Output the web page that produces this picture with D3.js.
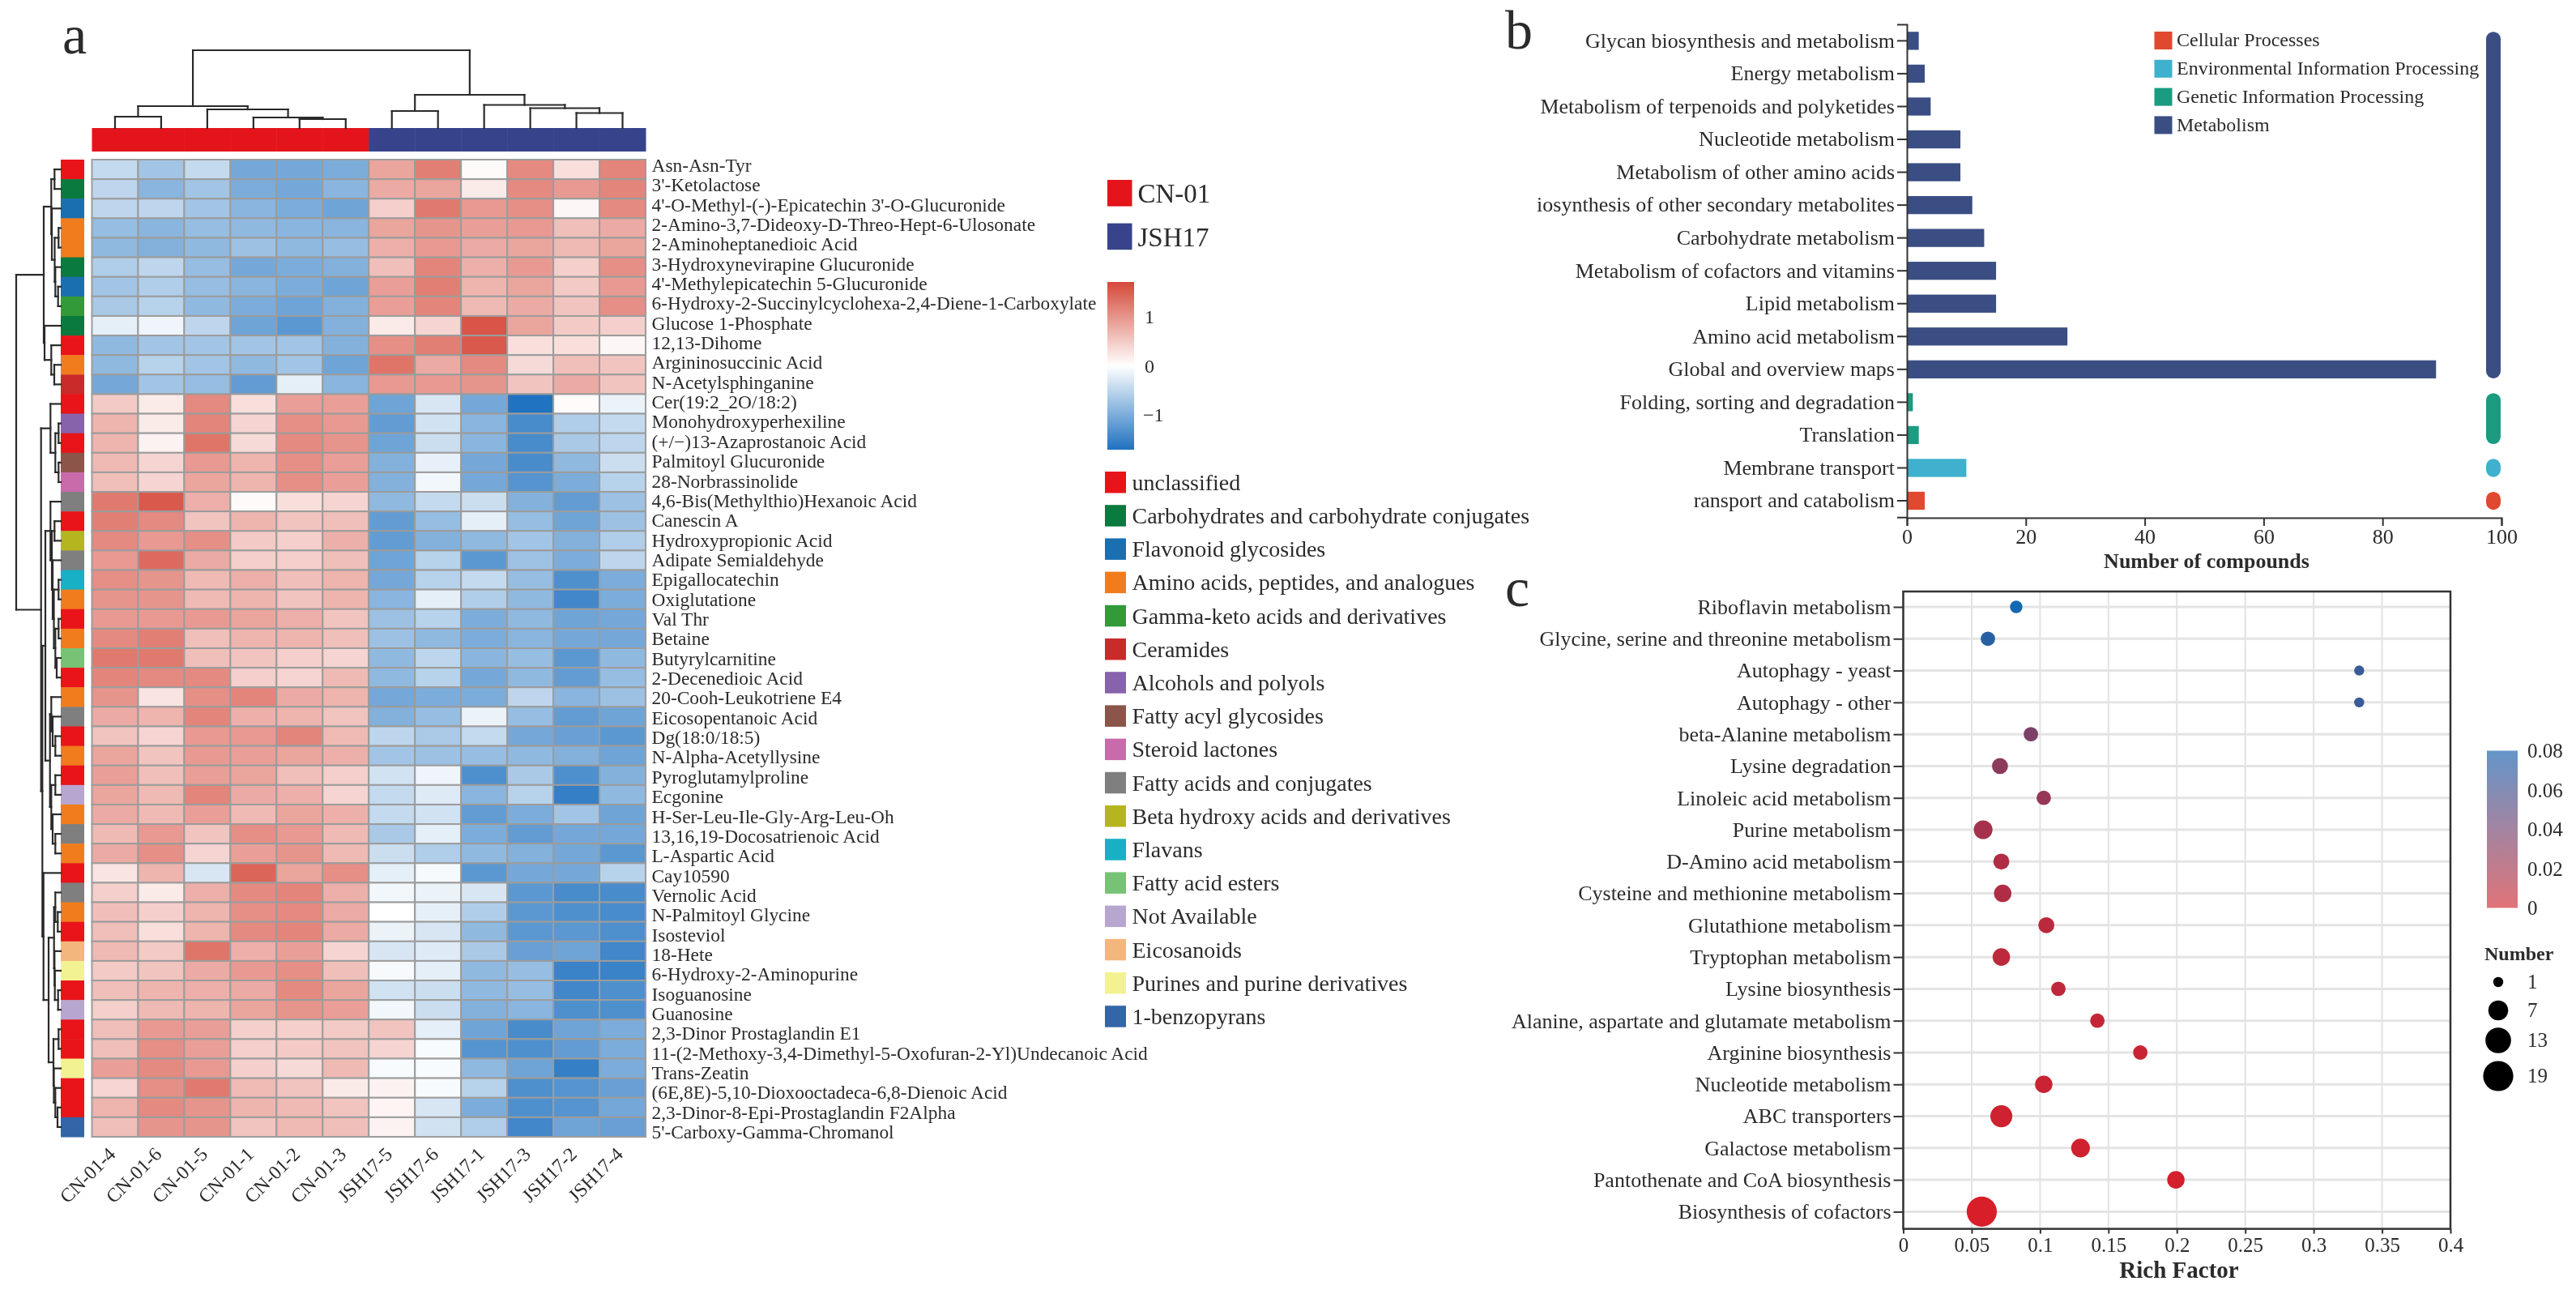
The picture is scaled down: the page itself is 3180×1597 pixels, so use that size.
<!DOCTYPE html>
<html><head><meta charset="utf-8">
<script src="https://cdn.jsdelivr.net/npm/d3@7"></script>
<style>
html,body{margin:0;padding:0;background:#fff}
svg{display:block;filter:blur(0.6px)}
text{font-family:"Liberation Serif",serif;fill:#2b2b2b}
</style></head><body>
<svg id="chart" width="3180" height="1597"></svg>
<script>
// ---------- Panel a: heatmap ----------
const sampleLabels=["CN-01-4","CN-01-6","CN-01-5","CN-01-1","CN-01-2","CN-01-3","JSH17-5","JSH17-6","JSH17-1","JSH17-3","JSH17-2","JSH17-4"];
const groupNames=["CN-01","JSH17"];
const sampleGroups=[0,0,0,0,0,0,1,1,1,1,1,1];
const metaboliteLabels=["Asn-Asn-Tyr","3'-Ketolactose","4'-O-Methyl-(-)-Epicatechin 3'-O-Glucuronide","2-Amino-3,7-Dideoxy-D-Threo-Hept-6-Ulosonate","2-Aminoheptanedioic Acid","3-Hydroxynevirapine Glucuronide","4'-Methylepicatechin 5-Glucuronide","6-Hydroxy-2-Succinylcyclohexa-2,4-Diene-1-Carboxylate","Glucose 1-Phosphate","12,13-Dihome","Argininosuccinic Acid","N-Acetylsphinganine","Cer(19:2_2O/18:2)","Monohydroxyperhexiline","(+/−)13-Azaprostanoic Acid","Palmitoyl Glucuronide","28-Norbrassinolide","4,6-Bis(Methylthio)Hexanoic Acid","Canescin A","Hydroxypropionic Acid","Adipate Semialdehyde","Epigallocatechin","Oxiglutatione","Val Thr","Betaine","Butyrylcarnitine","2-Decenedioic Acid","20-Cooh-Leukotriene E4","Eicosopentanoic Acid","Dg(18:0/18:5)","N-Alpha-Acetyllysine","Pyroglutamylproline","Ecgonine","H-Ser-Leu-Ile-Gly-Arg-Leu-Oh","13,16,19-Docosatrienoic Acid","L-Aspartic Acid","Cay10590","Vernolic Acid","N-Palmitoyl Glycine","Isosteviol","18-Hete","6-Hydroxy-2-Aminopurine","Isoguanosine","Guanosine","2,3-Dinor Prostaglandin E1","11-(2-Methoxy-3,4-Dimethyl-5-Oxofuran-2-Yl)Undecanoic Acid","Trans-Zeatin","(6E,8E)-5,10-Dioxooctadeca-6,8-Dienoic Acid","2,3-Dinor-8-Epi-Prostaglandin F2Alpha","5'-Carboxy-Gamma-Chromanol"];
const heatValues=[
[-.45,-.7,-.45,-1.05,-1.05,-1.0,.85,1.2,.05,1.1,.3,1.15],
[-.5,-.9,-.7,-1.0,-1.05,-.9,.8,.85,.2,1.1,.95,1.15],
[-.5,-.5,-.7,-.9,-1.0,-1.1,.45,1.25,.95,1.05,.08,1.1],
[-.8,-.9,-.8,-.85,-.9,-.9,.85,1.0,.9,.95,.6,.8],
[-.85,-.95,-.85,-.75,-.85,-.8,.75,.95,.8,.85,.65,.85],
[-.6,-.5,-.8,-1.05,-1.0,-.95,.6,1.15,.75,.95,.45,1.05],
[-.7,-.6,-.8,-.9,-1.0,-1.1,.9,1.2,.7,.85,.5,.95],
[-.65,-.55,-.85,-1.0,-1.1,-.95,.9,1.15,.65,.8,.55,1.05],
[-.2,-.12,-.5,-1.1,-1.25,-.95,.2,.4,1.6,.85,.5,.45],
[-.85,-.7,-.7,-.7,-.7,-.95,1.05,1.2,1.55,.3,.3,.08],
[-.85,-.55,-.7,-.85,-.7,-1.1,1.3,.8,1.1,.35,.6,.55],
[-1.05,-.7,-.8,-1.2,-.2,-.9,.95,.95,1.0,.55,.8,.55],
[.5,.2,1.1,.3,.9,.9,-1.1,-.3,-1.05,-1.7,.04,-.15],
[.7,.2,1.15,.4,1.05,.95,-1.2,-.35,-.9,-1.4,-.6,-.45],
[.7,.12,1.3,.35,1.1,1.0,-1.1,-.4,-.9,-1.4,-.65,-.5],
[.65,.4,.95,.7,1.05,.9,-.95,-.18,-1.05,-1.4,-.85,-.4],
[.6,.4,.85,.7,1.05,.9,-.95,-.1,-1.05,-1.3,-1.0,-.55],
[1.25,1.55,.75,.05,.3,.4,-.85,-.45,-.4,-.95,-1.2,-.75],
[1.2,1.1,.55,.7,.55,.6,-1.2,-.8,-.2,-.8,-1.1,-.75],
[1.1,.95,1.05,.5,.45,.75,-1.2,-.95,-.85,-.7,-.95,-.6],
[.95,1.4,.8,.45,.45,.6,-1.1,-.55,-1.25,-.75,-1.0,-.5],
[1.05,1.0,.65,.75,.6,.7,-1.05,-.55,-.45,-.8,-1.35,-1.0],
[1.0,1.0,.65,.7,.55,.7,-.9,-.2,-.6,-.85,-1.45,-1.0],
[.95,.95,.95,.85,.75,.55,-.75,-.55,-1.0,-.85,-1.1,-1.05],
[1.1,1.2,.6,.7,.7,.6,-.75,-.85,-1.0,-.9,-1.05,-1.05],
[1.25,1.25,.6,.55,.45,.4,-.85,-.5,-.9,-.8,-1.25,-.85],
[1.15,1.1,1.1,.45,.4,.65,-.85,-.55,-1.05,-.85,-1.2,-.8],
[1.0,.25,1.05,1.15,.8,.7,-1.05,-1.0,-1.0,-.5,-.9,-.75],
[.8,.7,1.15,.75,.7,.55,-.95,-.8,-.15,-.8,-1.2,-1.1],
[.55,.4,.95,.95,1.15,.65,-.5,-.65,-.45,-1.05,-1.15,-1.25],
[.85,.55,.95,.9,.85,.75,-.7,-.75,-.8,-.85,-.95,-1.1],
[.9,.6,.9,.85,.6,.45,-.35,-.12,-1.35,-.65,-1.35,-.95],
[.85,.65,1.15,.8,.75,.4,-.45,-.25,-.9,-.55,-1.55,-.85],
[.8,.65,.9,.65,.85,.75,-.45,-.35,-1.2,-1.0,-.7,-1.1],
[.65,.95,.55,1.05,.95,.65,-.65,-.2,-1.0,-1.2,-1.05,-1.05],
[.8,1.05,.4,.9,1.0,.65,-.4,-.6,-.85,-.95,-1.05,-1.25],
[.25,.7,-.3,1.45,.85,1.05,-.2,-.06,-1.25,-1.05,-1.05,-.55],
[.45,.2,.75,1.1,1.15,.75,-.1,-.15,-.3,-1.25,-1.4,-1.4],
[.6,.45,.7,1.05,1.1,.8,.0,-.2,-.6,-1.25,-1.35,-1.4],
[.6,.3,.7,1.1,1.15,.8,-.15,-.3,-.85,-1.25,-1.25,-1.35],
[.65,.5,1.3,.75,.9,.4,-.3,-.25,-.65,-1.15,-1.1,-1.45],
[.5,.55,.8,.95,1.05,.6,-.06,-.2,-.85,-.8,-1.5,-1.5],
[.6,.7,.75,.8,1.1,.85,-.35,-.4,-.85,-.8,-1.45,-1.35],
[.45,.65,.7,.85,1.0,.9,-.1,-.4,-.95,-.9,-1.35,-1.35],
[.6,.95,.9,.45,.45,.5,.55,-.2,-1.1,-1.4,-1.1,-1.0],
[.6,1.05,.9,.45,.5,.55,.4,-.05,-1.3,-1.35,-1.2,-1.0],
[.9,1.1,.95,.45,.35,.65,-.05,-.05,-.85,-1.1,-1.55,-1.0],
[.4,1.05,1.25,.65,.55,.2,.12,-.05,-.55,-1.35,-1.3,-1.15],
[.7,1.1,1.0,.7,.65,.55,.1,-.3,-1.0,-1.35,-1.3,-1.05],
[.6,1.0,1.0,.55,.65,.6,.12,-.35,-.6,-1.45,-1.1,-1.15]];
const classNames=["unclassified","Carbohydrates and carbohydrate conjugates","Flavonoid glycosides","Amino acids, peptides, and analogues","Gamma-keto acids and derivatives","Ceramides","Alcohols and polyols","Fatty acyl glycosides","Steroid lactones","Fatty acids and conjugates","Beta hydroxy acids and derivatives","Flavans","Fatty acid esters","Not Available","Eicosanoids","Purines and purine derivatives","1-benzopyrans"];
const classColors=["#e8141a","#0b7a3e","#1a6fb0","#f07c1d","#339a3a","#c92a2a","#8763ab","#8c5549","#c96aaa","#7f7f7f","#b5b520","#18b0c4","#77c274","#b7a6d0","#f3b67d","#f3f292","#3465a8"];
const rowClass=[0,1,2,3,3,1,2,4,1,0,3,5,0,6,0,7,8,9,0,10,9,11,3,0,3,12,0,3,9,0,3,0,13,3,9,3,0,9,3,0,14,15,0,13,0,0,15,0,0,16];
const heatTicks=[1,0,-1];
// dendrograms: [height, childA, childB]; a number is a leaf
const colTree=[96,[27,[14,0,1],[23,2,[13,3,[11,4,5]]]],[41,[21,6,7],[28.5,8,[24.5,9,[18.5,10,11]]]]];
const rowTree=[55,
 [21,[11.7,[7.7,0,1],[11,2,[7.5,[2.7,3,4],[6.7,5,[3.3,6,7]]]]],[20,8,[11.7,9,[8,10,11]]]],
 [24.3,[12.7,12,[6.7,[2.7,13,14],[2.7,15,16]]],
  [22.7,
   [19,[12.7,17,[11,[7.7,18,19],[10,20,[8.5,[2.7,21,22],[6.7,[2.7,23,24],[5,25,26]]]]]],
       [13.3,[11.7,27,[10,28,[6.7,29,30]]],[11.7,[6.7,31,32],[10,33,[6.7,34,35]]]]],
   [21.3,36,[15,[8.3,[6.7,37,[3.7,38,39]],[7.7,40,[7.3,41,[3.3,42,43]]]],[9,[2.7,44,45],[8.5,46,[6.7,47,[4,48,49]]]]]]]]];
// ---------- Panel b: bars ----------
const barLabels=["Glycan biosynthesis and metabolism","Energy metabolism","Metabolism of terpenoids and polyketides","Nucleotide metabolism","Metabolism of other amino acids","iosynthesis of other secondary metabolites","Carbohydrate metabolism","Metabolism of cofactors and vitamins","Lipid metabolism","Amino acid metabolism","Global and overview maps","Folding, sorting and degradation","Translation","Membrane transport","ransport and catabolism"];
const barValues=[2,3,4,9,9,11,13,15,15,27,89,1,2,10,3];
const barGroups=[3,3,3,3,3,3,3,3,3,3,3,2,2,1,0];
const pathwayNames=["Cellular Processes","Environmental Information Processing","Genetic Information Processing","Metabolism"];
const pathwayColors=["#e0492f","#3fb0cd","#1b9b80","#3a4e83"];
const barTicks=[0,20,40,60,80,100];
// ---------- Panel c: bubbles ----------
const bubbleLabels=["Riboflavin metabolism","Glycine, serine and threonine metabolism","Autophagy - yeast","Autophagy - other","beta-Alanine metabolism","Lysine degradation","Linoleic acid metabolism","Purine metabolism","D-Amino acid metabolism","Cysteine and methionine metabolism","Glutathione metabolism","Tryptophan metabolism","Lysine biosynthesis","Alanine, aspartate and glutamate metabolism","Arginine biosynthesis","Nucleotide metabolism","ABC transporters","Galactose metabolism","Pantothenate and CoA biosynthesis","Biosynthesis of cofactors"];
const richFactor=[.0826,.0619,.3333,.3333,.0933,.0707,.1027,.0584,.0717,.0727,.1046,.0717,.1134,.1419,.1733,.1027,.0717,.1296,.1993,.0574];
const bubbleCounts=[2,3,1,1,3,4,3,6,4,5,4,5,3,3,3,5,9,6,5,19];
const bubblePValues=[.08,.072,.065,.065,.038,.032,.028,.022,.018,.018,.014,.013,.012,.01,.008,.008,.006,.005,.004,.002];
const richTicks=[0,.05,.1,.15,.2,.25,.3,.35,.4];
const pTicks=[.08,.06,.04,.02,0];
const numberTicks=[1,7,13,19];

const svg=d3.select("#chart");
const serif="Liberation Serif";
const text=(g,x,y,s,size,opts={})=>g.append("text").attr("x",x).attr("y",y).attr("dy","0.35em")
  .attr("font-size",size).attr("text-anchor",opts.anchor||"start").attr("font-weight",opts.weight||"normal").text(s);

// panel letters
text(svg,77,42,"a",68); text(svg,1858,36,"b",68); text(svg,1858,724,"c",68);

// ---- heatmap ----
const gA=svg.append("g");
const xH=d3.scaleBand().domain(d3.range(sampleLabels.length)).range([113.5,797]);
const yH=d3.scaleBand().domain(d3.range(metaboliteLabels.length)).range([197,1403]);
const heatColor=d3.scaleLinear().domain([-1.71,0,1.71]).range(["#1f72c0","#ffffff","#d5493a"]);
const groupColors=["#e3141a","#37448c"];
gA.append("g").selectAll("rect").data(heatValues.flatMap((r,i)=>r.map((v,j)=>({v,i,j})))).join("rect")
  .attr("x",d=>xH(d.j)).attr("y",d=>yH(d.i)).attr("width",xH.bandwidth()).attr("height",yH.bandwidth())
  .attr("fill",d=>heatColor(d.v)).attr("stroke","#9c9c9c").attr("stroke-width",2);
// column annotation
gA.append("g").selectAll("rect").data(sampleGroups).join("rect")
  .attr("x",(d,i)=>xH(i)).attr("y",158).attr("width",xH.bandwidth()+.5).attr("height",29).attr("fill",d=>groupColors[d]);
// row annotation
gA.append("g").selectAll("rect").data(rowClass).join("rect")
  .attr("x",75).attr("y",(d,i)=>yH(i)).attr("width",29).attr("height",yH.bandwidth()+.5).attr("fill",d=>classColors[d]);
// row labels (printed slightly out of register with the rows in the source)
const yL=d3.scalePoint().domain(metaboliteLabels).range([203.7,1397]);
gA.append("g").selectAll("text").data(metaboliteLabels).join("text")
  .attr("x",804.5).attr("y",d=>yL(d)).attr("dy","0.35em").attr("font-size",23.4).text(d=>d);
// column labels
gA.append("g").selectAll("text").data(sampleLabels).join("text")
  .attr("transform",(d,i)=>`translate(${xH(i)+xH.bandwidth()/2-4},1420) rotate(-45)`)
  .attr("text-anchor","end").attr("dy","0.35em").attr("font-size",24).text(d=>d);
// dendrograms
function drawTree(g,tree,leafPos,hScale,vertical){
  const segs=[];
  (function walk(n){
    if(typeof n==="number") return {p:leafPos(n),h:0};
    const a=walk(n[1]),b=walk(n[2]);
    segs.push([[a.p,a.h],[a.p,n[0]]],[[a.p,n[0]],[b.p,n[0]]],[[b.p,n[0]],[b.p,b.h]]);
    return {p:(a.p+b.p)/2,h:n[0]};
  })(tree);
  g.append("g").selectAll("line").data(segs).join("line")
    .attr("x1",d=>vertical?d[0][0]:hScale(d[0][1])).attr("y1",d=>vertical?hScale(d[0][1]):d[0][0])
    .attr("x2",d=>vertical?d[1][0]:hScale(d[1][1])).attr("y2",d=>vertical?hScale(d[1][1]):d[1][0])
    .attr("stroke","#2a2a2a").attr("stroke-width",2.2).attr("stroke-linecap","square");
}
drawTree(gA,colTree,i=>xH(i)+xH.bandwidth()/2,d3.scaleLinear().domain([0,96]).range([158,62]),true);
drawTree(gA,rowTree,i=>yH(i)+yH.bandwidth()/2,d3.scaleLinear().domain([0,55]).range([75,20]),false);
// group legend
groupNames.forEach((n,i)=>{
  gA.append("rect").attr("x",1367).attr("y",222+i*53.6).attr("width",30.5).attr("height",32.6).attr("fill",groupColors[i]);
  text(gA,1404.5,238+i*54,n,33);
});
// colour bar
const defs=svg.append("defs");
const lg=defs.append("linearGradient").attr("id","heatGrad").attr("x1",0).attr("y1",0).attr("x2",0).attr("y2",1);
d3.range(0,1.0001,.1).forEach(t=>lg.append("stop").attr("offset",t).attr("stop-color",heatColor(1.71-3.42*t)));
const cbY=d3.scaleLinear().domain([1.71,-1.71]).range([348,555]);
gA.append("rect").attr("x",1367).attr("y",cbY(1.71)).attr("width",33).attr("height",cbY(-1.71)-cbY(1.71)).attr("fill","url(#heatGrad)");
heatTicks.forEach(t=>text(gA,t<0?1411:1413,cbY(t),t<0?"−1":String(t),24));
// class legend
classNames.forEach((n,i)=>{
  gA.append("rect").attr("x",1364).attr("y",582+i*41.2).attr("width",26).attr("height",26.5).attr("fill",classColors[i]);
  text(gA,1397.5,595+i*41.2,n,28);
});

// ---- bars ----
const gB=svg.append("g");
const xB=d3.scaleLinear().domain([0,100]).range([2354,3088]);
const yB=d3.scaleBand().domain(barLabels).range([30.1,638.3]).paddingInner(.45).paddingOuter(.225);
gB.append("g").selectAll("rect").data(barLabels).join("rect")
  .attr("x",xB(0)).attr("y",d=>yB(d)).attr("width",(d,i)=>xB(barValues[i])-xB(0)).attr("height",yB.bandwidth())
  .attr("fill",(d,i)=>pathwayColors[barGroups[i]]);
const axL=gB.append("g").attr("transform",`translate(${xB(0)},0)`).call(d3.axisLeft(yB).tickSize(12).tickPadding(3));
const axB=gB.append("g").attr("transform","translate(0,639)").call(d3.axisBottom(xB).tickValues(barTicks).tickSize(10).tickPadding(4));
[axL,axB].forEach(a=>{a.selectAll("path,line").attr("stroke","#333").attr("stroke-width",2);a.selectAll("text").attr("font-size",26).attr("fill","#2b2b2b").attr("font-family",serif);});
text(gB,2724,692,"Number of compounds",26,{anchor:"middle",weight:"bold"});
// pathway strips
pathwayNames.forEach((n,k)=>{
  const idx=d3.range(barLabels.length).filter(i=>barGroups[i]===k);
  const y0=d3.min(idx,i=>yB(barLabels[i])),y1=d3.max(idx,i=>yB(barLabels[i]))+yB.bandwidth();
  gB.append("rect").attr("x",3069).attr("y",y0).attr("width",18).attr("height",y1-y0).attr("rx",9).attr("fill",pathwayColors[k]);
  gB.append("rect").attr("x",2659.5).attr("y",39+k*34.8).attr("width",22).attr("height",22).attr("fill",pathwayColors[k]);
  text(gB,2687,49+k*34.8,n,24);
});

// ---- bubbles ----
const gC=svg.append("g");
const xC=d3.scaleLinear().domain([0,.4]).range([2349.5,3025]);
const yC=d3.scalePoint().domain(bubbleLabels).range([749,1495.4]);
const rC=d3.scaleSqrt().domain([1,19]).range([6.2,18.6]);
const pColor=d3.scaleLinear().domain([0,.08]).range(["#dd1c25","#1369b1"]);
const pBar=d3.scaleLinear().domain([0,.08]).range(["#e17378","#6495c9"]);
const boxTop=730,boxBot=1516.6;
gC.append("g").selectAll("line").data(richTicks).join("line").attr("x1",d=>xC(d)).attr("x2",d=>xC(d)).attr("y1",boxTop).attr("y2",boxBot).attr("stroke","#e2e2e2").attr("stroke-width",2);
gC.append("g").selectAll("line").data(bubbleLabels).join("line").attr("x1",xC(0)).attr("x2",xC(.4)).attr("y1",d=>yC(d)).attr("y2",d=>yC(d)).attr("stroke","#e4e4e4").attr("stroke-width",3);
const axLc=gC.append("g").attr("transform",`translate(${xC(0)},0)`).call(d3.axisLeft(yC).tickSize(12).tickPadding(3));
const axBc=gC.append("g").attr("transform",`translate(0,${boxBot})`).call(d3.axisBottom(xC).tickValues(richTicks).tickFormat(d3.format("~g")).tickSize(6).tickPadding(5));
[axLc,axBc].forEach(a=>{a.select(".domain").remove();a.selectAll("line").attr("stroke","#333").attr("stroke-width",2);a.selectAll("text").attr("fill","#2b2b2b").attr("font-family",serif);});
axLc.selectAll("text").attr("font-size",26);
axBc.selectAll("text").attr("font-size",25);
gC.append("rect").attr("x",xC(0)).attr("y",boxTop).attr("width",xC(.4)-xC(0)).attr("height",boxBot-boxTop).attr("fill","none").attr("stroke","#333").attr("stroke-width",2.5);
gC.append("g").selectAll("circle").data(bubbleLabels).join("circle")
  .attr("cx",(d,i)=>xC(richFactor[i])).attr("cy",d=>yC(d)).attr("r",(d,i)=>rC(bubbleCounts[i])).attr("fill",(d,i)=>pColor(bubblePValues[i]));
text(gC,2690,1567,"Rich Factor",29,{anchor:"middle",weight:"bold"});
// p legend
const lg2=defs.append("linearGradient").attr("id","pGrad").attr("x1",0).attr("y1",0).attr("x2",0).attr("y2",1);
d3.range(0,1.0001,.1).forEach(t=>lg2.append("stop").attr("offset",t).attr("stop-color",pBar(.08-.08*t)));
const pY=d3.scaleLinear().domain([.08,0]).range([926.5,1120.5]);
gC.append("rect").attr("x",3070).attr("y",pY(.08)).attr("width",38).attr("height",pY(0)-pY(.08)).attr("fill","url(#pGrad)");
pTicks.forEach(t=>text(gC,3120,pY(t),d3.format("~g")(t),25));
// number legend
text(gC,3067,1177,"Number",24,{weight:"bold"});
const numY=d3.scaleLinear().domain([1,7,13,19]).range([1212,1247,1284,1328]);
numberTicks.forEach(n=>{
  gC.append("circle").attr("cx",3084).attr("cy",numY(n)).attr("r",rC(n)).attr("fill","#000");
  text(gC,3120,numY(n)-1,n,25);
});
</script></body></html>
